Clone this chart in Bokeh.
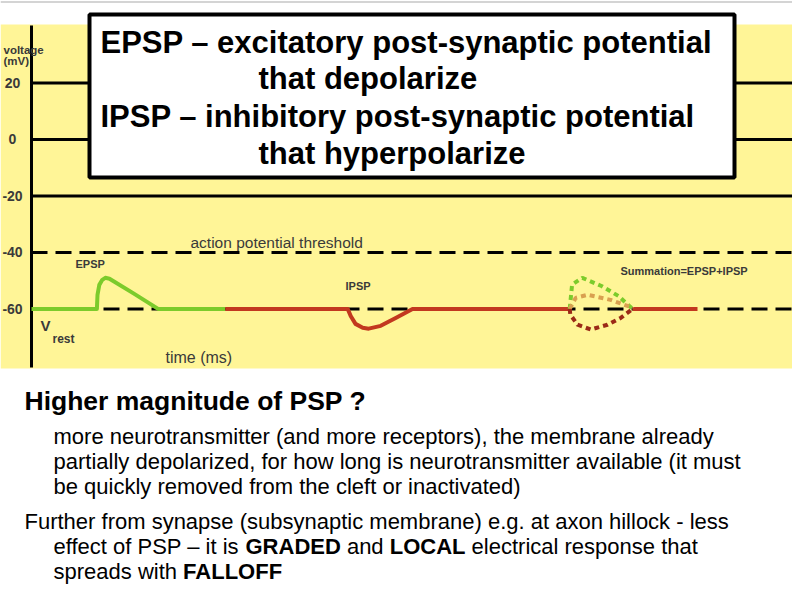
from bokeh.plotting import figure
from bokeh.models import Label, BoxAnnotation, Span
from bokeh.embed import file_html
from bokeh.resources import INLINE
from bokeh.core.properties import value

# ---------------- data ----------------
tick_values = [20, 0, -20, -40, -60]
tick_labels = ["20", "0", "-20", "-40", "-60"]
solid_levels = [20, 0, -20]
dashed_levels = [-40, -60]          # action potential threshold, resting potential

# time (ms) / membrane potential (mV)
epsp_t = [0.0, 10.9, 11.0, 11.3, 11.8, 12.3, 13.0, 17.0, 21.1, 32.3]
epsp_v = [-60, -60, -55.0, -51.5, -49.7, -49.0, -49.3, -54.5, -60, -60]
ipsp_t = [32.3, 52.7, 53.2, 54.0, 55.2, 56.2, 58.2, 60.7, 63.5, 89.7]
ipsp_v = [-60, -60, -62.5, -65.3, -66.7, -67.0, -66.0, -63.2, -60, -60]
tail_t = [100.2, 111.0]
tail_v = [-60, -60]
sum_epsp_t = [89.7, 90.1, 91.8, 95.0, 97.8, 99.6, 100.2]
sum_epsp_v = [-60, -51.4, -49.0, -51.9, -55.4, -58.9, -60]
sum_total_t = [89.7, 90.7, 92.7, 96.5, 99.8, 100.2]
sum_total_v = [-60, -56.1, -55.0, -56.8, -59.3, -60]
sum_ipsp_t = [89.7, 89.8, 91.0, 93.2, 96.0, 98.2, 100.2]
sum_ipsp_v = [-60, -62.0, -65.6, -67.3, -65.6, -63.2, -60]

# ---------------- layout helpers (page pixels -> data) ----------------
AX = 31.0      # page x of the voltage axis
PX_MS = 6.0    # pixels per ms
W, H = 792, 592


def X(px):
    return (px - AX) / PX_MS


def Y(py):
    return -20 + (195.4 - py) / 2.825


FONT = "Liberation Sans"
GREEN = "#7CCB2B"
RED = "#C2381F"
DARKRED = "#9B2A17"
TAN = "#D9A050"
YELLOW = "#FFF597"
LABEL = "#3a3a3a"

p = figure(width=W, height=H, x_range=(X(0), X(W)), y_range=(Y(H), Y(0)),
           min_border=0, x_axis_location=None, y_axis_location=None,
           toolbar_location=None, output_backend="svg", outline_line_color=None,
           background_fill_color="white", border_fill_color="white")
p.grid.visible = False

# slide border line at the very top
p.add_layout(Span(location=Y(1.5), dimension="width", line_color="#d4d4d4", line_width=2))

# yellow chart panel
p.add_layout(BoxAnnotation(top=Y(24), bottom=Y(368), right=X(793), fill_color=YELLOW,
                           fill_alpha=1, line_alpha=0, level="underlay"))

# axis line and reference levels
p.line([0, 0], [Y(25), Y(367)], line_color="black", line_width=3)
p.segment(x0=[0] * len(solid_levels), x1=[X(793)] * len(solid_levels),
          y0=solid_levels, y1=solid_levels, line_color="black", line_width=3)
p.segment(x0=[0] * len(dashed_levels), x1=[X(793)] * len(dashed_levels),
          y0=dashed_levels, y1=dashed_levels, line_color="black", line_width=3,
          line_dash="16 8")

# tick labels
p.text(x=[X(12)] * len(tick_values), y=tick_values, text=tick_labels,
       text_align="center", text_baseline="middle", text_font=value(FONT),
       text_font_size="14px", text_font_style="bold", text_color=LABEL)

# curves
p.line(epsp_t, epsp_v, line_color=GREEN, line_width=4, line_join="round")
p.line(ipsp_t, ipsp_v, line_color=RED, line_width=4, line_join="round")
p.line(tail_t, tail_v, line_color=RED, line_width=4)
p.line(sum_epsp_t, sum_epsp_v, line_color=GREEN, line_width=4, line_dash="5 4")
p.line(sum_total_t, sum_total_v, line_color=TAN, line_width=4, line_dash="5 4")
p.line(sum_ipsp_t, sum_ipsp_v, line_color=DARKRED, line_width=4, line_dash="5 4")

# title box
p.quad(left=X(89), right=X(734), top=Y(14), bottom=Y(177), fill_color="white",
       line_color="black", line_width=4)


def lab(px, py, text, size, bold=False, color="black", align="left"):
    p.add_layout(Label(x=X(px), y=Y(py), text=text, text_font=FONT,
                       text_font_size=size, text_font_style="bold" if bold else "normal",
                       text_color=color, text_align=align, text_baseline="middle"))


# chart annotations
lab(3, 49, "voltage", "11.5px", True, LABEL)
lab(3, 60, "(mV)", "11.5px", True, LABEL)
lab(190, 242, "action potential threshold", "15.5px", False, LABEL)
lab(75, 263, "EPSP", "11px", True, LABEL)
lab(345, 285, "IPSP", "11px", True, LABEL)
lab(620, 270, "Summation=EPSP+IPSP", "11px", True, LABEL)
lab(40, 325, "V", "15px", True, LABEL)
lab(52, 338, "rest", "12px", True, LABEL)
lab(165, 357, "time (ms)", "16px", False, LABEL)

# box text
lab(100, 42, "EPSP \u2013 excitatory post-synaptic potential", "31px", True)
lab(258, 78, "that depolarize", "31px", True)
lab(100, 116, "IPSP \u2013 inhibitory post-synaptic potential", "31px", True)
lab(258, 153, "that hyperpolarize", "31px", True)

# slide text
BODY = "22px"
lab(24, 400, "Higher magnitude of PSP ?", "26.5px", True)
lab(53, 436, "more neurotransmitter (and more receptors), the membrane already", BODY)
lab(53, 461, "partially depolarized, for how long is neurotransmitter available (it must", BODY)
lab(53, 486, "be quickly removed from the cleft or inactivated)", BODY)
lab(24, 521, "Further from synapse (subsynaptic membrane) e.g. at axon hillock - less", BODY)
lab(53, 546, "effect of PSP \u2013 it is", BODY)
lab(245, 546, "GRADED", BODY, True)
lab(346.4, 546, "and", BODY)
lab(389.2, 546, "LOCAL", BODY, True)
lab(471.1, 546, "electrical response that", BODY)
lab(53, 571, "spreads with", BODY)
lab(182.6, 571, "FALLOFF", BODY, True)

open("out.html", "w").write(file_html(p, INLINE))
